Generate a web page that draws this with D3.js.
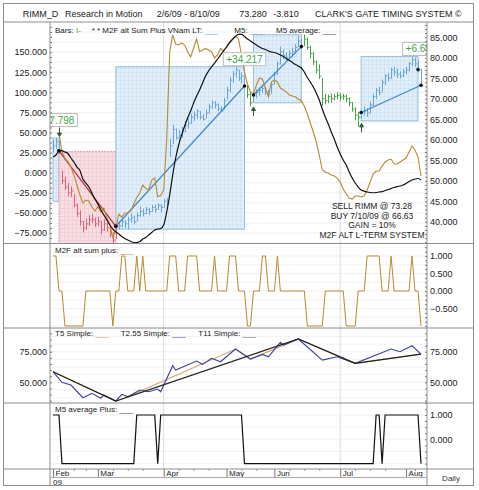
<!DOCTYPE html>
<html>
<head>
<meta charset="utf-8">
<script src="https://d3js.org/d3.v7.min.js"></script>
<style>
  body { margin: 0; background: #fff; }
  svg text { font-family: "Liberation Sans", Arial, Helvetica, sans-serif; }
</style>
</head>
<body>
<svg id="chart" width="479" height="490"></svg>
<script>
// Header
var titleItems = [
  {x: 22.7, text: "RIMM_D"},
  {x: 65, text: "Research in Motion"},
  {x: 156.7, text: "2/6/09 - 8/10/09"},
  {x: 239.3, text: "73.280"},
  {x: 273.3, text: "-3.810"},
  {x: 315, text: "CLARK'S GATE TIMING SYSTEM \u00a9"}
];

// X axis, one slot per trading day
var monthLabels = ["Feb", "Mar", "Apr", "May", "Jun", "Jul", "Aug"];
var monthIdx = [0, 15, 37, 58, 74, 96, 118];
var weekIdx = [2, 7, 11, 20, 25, 30, 42, 47, 52, 63, 68, 79, 84, 89, 101, 106, 111, 121];
var quarterIdx = [37, 96];

// Daily price bars (right axis)
var closes = [58.5,59.5,57.3,50,48.5,47,47.5,44,42,40, 38.5,39.5,40.5,40.5,39.5,40,38,39.5,38.5,37,
  35.5,38.9,39,40,39.5,40.5,41,40,41.5,42.5, 42,43,42.5,43.5,43,44,43.5,45,44.5,58.5,
  62.5,60.5,61,62,63.5,64,65.5,66,67,65.5, 65,66.5,68,69,68.5,67.5,67,69.5,72,74.5,
  76,77,75,75.5,73.1,71,69,70.9,71.5,72, 72.5,71.5,71,73.5,76,78.5,81.5,80.5,80,81,
  81.5,82.5,84,82.7,84.5,82.5,81,79,77,75.5, 70,69.5,70.5,70,70.5,70.8,70.4,70.6,70,69,
  67.5,66,65.5,66.5,67,66.5,68.5,70.5,72,71.5, 74,75.5,75,77,76.5,76,75.5,76.5,77,78.5,
  79.5,78.5,77.1,73.28];
var highs = [60,60.4,59.8,52.5,51,49.5,48.6,46.8,44.5,42.8, 40.2,40.8,41.6,41.9,41,41.2,40.2,40.6,39.8,38.9,
  37.4,39.5,40.2,41,40.4,41.2,42,41.5,42.3,43.7, 43.2,43.6,43.4,44.1,44.2,44.5,44.3,45.6,45.8,60.2,
  63.6,62.8,62.4,63.1,64.5,65.2,66.3,66.9,67.4,67, 66.2,67.3,68.8,69.6,69.4,68.9,68.1,70.2,72.9,75.3,
  76.8,77.8,77.1,76.4,75.6,73.4,71.5,71.6,72.3,72.8, 73.4,72.9,72.2,74.1,76.6,79.1,82.7,82,81.3,81.8,
  82.4,83.3,85.4,84.6,85.6,84.9,83,81.4,79.3,78.4, 75,71.2,71,71.3,71.2,71.6,71.4,71.2,71,70.3,
  69.2,67.9,66.8,67.4,68.1,67.7,69.3,71.2,72.6,72.9, 74.7,76,76.3,77.6,77.8,77.3,76.7,77.2,77.8,79,
  80.2,80,79.4,77.3];
var lows = [57,57.8,56.5,49.2,47.8,46.2,46,43.5,41.2,39.1, 37.4,38,39,39.6,38.7,38.9,36.9,37.8,37.6,36.2,
  34.7,35.8,38.1,38.6,38.5,38.2,39.8,39.4,40.1,41.2, 41.3,41.8,41.6,42.4,42.2,42.9,42.3,43.4,43.6,55.8,
  58.9,60,59.6,60.4,61.8,62.7,63.9,64.6,65.1,64.9, 64.7,65.2,66.4,67.5,67.6,67,66.8,67.4,69.8,71.6,
  73.9,75.2,74.3,73.8,72.4,70.2,68.1,69.2,70.1,70.7, 71.3,70.9,70.3,71.2,73.4,75.8,78.3,79.6,79.2,79.7,
  80.3,81,82.6,82.1,82.8,81.9,79.8,78.2,76.1,74.8, 68.2,68.6,68.9,69.1,69.6,69.8,69.5,69.7,69.2,68.1,
  66.8,64.7,63.2,65.2,65.9,65.6,66.4,68.1,69.9,70.8, 71.6,73.3,74.2,74.8,75.6,75.1,74.9,75.3,75.9,76.6,
  77.9,77.8,76.5,72.8];

// Indicator lines on the left axis
var m2fLT = [null,null,49.4,26.1,17.7,13.7,7.1,-2.9,-15.3,-27.7, -37.7,-34,-35.2,-42.7,-47.6,-42.3,-48.5,-43.9,-56.3,-63.8,
  -81.3,-68.8,-51.4,-55.1,-50.1,-50.1,-47.6,-38.9,-30.8,-25.2, -15.3,-19.4,-21.5,-9.1,-6.6,-29.9,-28.4,-21.5,40.7,150.1,
  171.3,160.1,158.8,161.3,158.8,150.5,143.9,155.1,166.3,150.5, 152.6,154.5,152.6,150.1,142.7,146.4,154.5,151.4,156.3,162.6,
  166.3,170.1,166.3,146.4,125.2,110.3,100.4,97.9,109.1,117.8, 116.5,105.3,94.2,112.8,115.3,112.8,105.3,102.9,100.4,96.6,
  95.4,94.2,91.7,89.2,83,73,61.8,50.6,38.2,22, 3.4,0.9,-0.4,-2.9,-4.1,-6.6,-11.6,-20.3,-26.5,-31.4,
  -32.7,-29,-29,-30.2,-29,-21.5,-11.6,-1.6,2.1,2.1, 8.3,13.3,15.8,17,10.8,10.8,13.3,15.8,18.3,25.7,
  33.2,28.2,19.5,-4.1];
var m5Avg = [19.5,22,27,27.6,25.7,23.9,18.3,13.3,7.1,2.7, -7.8,-12.8,-17.8,-25.2,-32.7,-38.9,-46.4,-52.6,-58.8,-65,
  -70,-73.7,-76.2,-79.4,-81.8,-83.7,-85.6,-86.8,-86.8,-85.6, -82.5,-80.6,-77.5,-74.4,-71.3,-70,-69.4,-65,-48.9,-27.7,
  -2.9,18.3,34.5,46.9,58.1,68,76.7,86.7,95.4,102.9, 111.6,120.3,126.5,131.5,136.4,141.4,146.4,151.4,156.3,161.3,
  165.7,169.4,171.9,171.9,169.4,166.3,163.8,161.3,158.8,156.3, 154.5,153.2,151.4,150.1,149.5,148.3,146.4,144.5,142,139.6,
  137.1,134.6,132.7,130.2,125.2,118.4,112.8,106.6,99.1,90.4, 79.2,69.3,60.6,50.6,41.9,31.9,23.3,15.8,9.6,0.9,
  -6.6,-12.8,-17.8,-21.5,-22.8,-24,-24.6,-24.9,-24.6,-24, -23.6,-22.1,-20.9,-19.7,-18.4,-17.2,-16.5,-15.3,-13.4,-10.9,
  -9.1,-7.8,-7.2,-9.1];

// Trades: box span, exit slot, entry/exit prices, box price range
var trades = [
  {from: 0, to: 2, out: 2, side: "long", pIn: null, pOut: 57.3, lo: 45, hi: 60.4, label: "+7.798"},
  {from: 2, to: 21, out: 21, side: "short", pIn: 57.3, pOut: 38.9, lo: 34.7, hi: 57.1},
  {from: 21, to: 64, out: 64, side: "long", pIn: 38.9, pOut: 73.1, lo: 38.2, hi: 77.8, label: "+34.217"},
  {from: 67, to: 83, out: 83, side: "long", pIn: 70.9, pOut: 82.7, lo: 69, hi: 85.6},
  {from: 103, to: 122, out: 123, side: "long", pIn: 66.63, pOut: 73.28, lo: 64.6, hi: 80.3, label: "+6.650"}
];
var notes = ["SELL RIMM @ 73.28", "BUY 7/10/09 @ 66.63", "GAIN = 10%", "M2F ALT L-TERM SYSTEM"];

// Lower panels
var m2fPlus = [1,1,0,0,-1,-1,-1,-1,-1,-1, -1,0,0,0,0,0,0,0,0,0, -1,0,0,1,1,0,0,0,1,0,
  1,0,0,0,0,0,0,0,0,1, 1,1,0,0,0,1,1,1,1,0, 0,0,0,0,1,0,0,0,0,1,
  1,1,0,0,0,-1,-1,0,0,0, 1,1,0,0,0,1,0,0,0,0, 0,0,0,0,0,-1,-1,-1,-1,-1,
  -1,0,0,0,0,0,0,0,-1,-1, -1,-1,0,0,0,1,1,1,1,1, 0,0,0,1,0,0,0,0,0,0,
  1,0,0,-1];
var t5 = [[0,58.7],[21,34.7],[23,40.2],[25,38.2],[61,77.2],[66,69],[82,85.4],[101,65.5],[123,73.1]];
var t255 = [[0,58.7],[3,50],[6,47.8],[10,37.4],[13,41],[16,36.9],[17,39.6],[21,34.7],[23,40.2],[25,38.2],
  [29,43.7],[32,42.3],[35,44.5],[36,42.3],[40,63.6],[41,60],[48,67.4],[50,64.7],[53,69.6],[56,66.8],
  [61,77.2],[66,69],[70,72.8],[72,70.9],[76,82.7],[77,80.5],[82,85.4],[90,68.2],[95,70.9],[101,65.5],
  [113,77.2],[116,75],[120,79.9],[123,73.1]];
var t11 = [[0,58.7],[21,34.7],[82,85.4],[101,65.5],[123,73.1]];
var m5Plus = [1,1,1,-1,-1,-1,-1,-1,-1,-1, -1,-1,-1,-1,-1,-1,-1,-1,-1,-1, -1,-1,-1,-1,-1,-1,-1,-1,1,1,
  1,1,1,1,1,-1,1,1,1,1, 1,1,1,1,1,1,1,1,1,1, 1,1,1,1,1,1,1,1,1,1,
  1,1,1,1,-1,-1,-1,-1,-1,-1, -1,-1,-1,-1,-1,-1,-1,-1,-1,-1, -1,-1,-1,-1,-1,-1,-1,-1,-1,-1,
  -1,-1,-1,-1,-1,-1,-1,-1,-1,-1, -1,-1,-1,-1,-1,-1,-1,-1,1,1, -1,1,1,1,1,1,1,1,1,1,
  1,1,1,-1];

// Axis labels
var mainLeftTicks = [-75, -50, -25, 0, 25, 50, 75, 100, 125, 150];
var mainRightTicks = [40, 45, 50, 55, 60, 65, 70, 75, 80, 85];
var m2fTicks = [-0.5, 0, 0.5, 1];
var tTicks = [50, 75];
var m5Ticks = [0, 1];

var svg = d3.select("#chart").style("color", "#333");
var defs = svg.append("defs");
var plotL = 50, plotR = 427;
var P1 = {top: 22, bot: 243.5}, P2 = {top: 243.5, bot: 328}, P3 = {top: 328, bot: 403}, P4 = {top: 403, bot: 469};
var fmt = d3.format(".3f");

var x = d3.scaleLinear().domain([-1, 125]).range([plotL, plotR]);
var yL = d3.scaleLinear().domain([-88, 187.4]).range([P1.bot, P1.top]);
var yR = d3.scaleLinear().domain([34.7, 88.7]).range([P1.bot, P1.top]);
var y2 = d3.scaleLinear().domain([-1.057, 1.357]).range([P2.bot, P2.top]);
var y3 = d3.scaleLinear().domain([33.1, 94.4]).range([P3.bot, P3.top]);
var y4 = d3.scaleLinear().domain([-1.222, 1.494]).range([P4.bot, P4.top]);

function gridPattern(id, bg, line) {
  var p = defs.append("pattern").attr("id", id).attr("width", 4).attr("height", 4)
    .attr("patternUnits", "userSpaceOnUse");
  p.append("rect").attr("width", 4).attr("height", 4).attr("fill", bg);
  p.append("path").attr("d", "M0,0.5H4M0.5,0V4").attr("stroke", line).attr("stroke-width", 0.7);
}
gridPattern("gridBlue", "#e2eff9", "#cfe3f3");
gridPattern("gridRed", "#f9dfe4", "#f1cad1");

function panel(id, P) {
  defs.append("clipPath").attr("id", id).append("rect")
    .attr("x", plotL).attr("y", P.top).attr("width", plotR - plotL).attr("height", P.bot - P.top);
  return svg.append("g").attr("clip-path", "url(#" + id + ")");
}

function hgrid(g, scale, vals, col) {
  g.selectAll(null).data(vals).enter().append("line")
    .attr("x1", plotL).attr("x2", plotR)
    .attr("y1", function (d) { return scale(d); }).attr("y2", function (d) { return scale(d); })
    .attr("stroke", col || "#ececec").attr("stroke-width", 0.8);
}
function vgrid(g, P) {
  g.selectAll(null).data(quarterIdx).enter().append("line")
    .attr("x1", function (d) { return x(d); }).attr("x2", function (d) { return x(d); })
    .attr("y1", P.top).attr("y2", P.bot).attr("stroke", "#dcdcdc");
}

function axisLabels(scale, vals, side) {
  var ax = side == "left" ? d3.axisLeft(scale) : d3.axisRight(scale);
  var g = svg.append("g").attr("transform", "translate(" + (side == "left" ? plotL : plotR) + ",0)")
    .call(ax.tickValues(vals).tickFormat(fmt).tickSize(0).tickPadding(3));
  g.select(".domain").remove();
  g.attr("font-size", 9);
  g.selectAll("text").attr("fill", "#222");
}
function minorTicks(scale, vals, side) {
  var ax = side == "left" ? d3.axisRight(scale) : d3.axisLeft(scale);
  var g = svg.append("g").attr("transform", "translate(" + (side == "left" ? plotL : plotR) + ",0)")
    .call(ax.tickValues(vals).tickFormat("").tickSize(2));
  g.select(".domain").remove();
  g.selectAll("line").attr("stroke", "#777");
}

function legend(y, items) {
  items.forEach(function (it) {
    var t = svg.append("text").attr("x", it.x).attr("y", y).attr("font-size", 8).attr("fill", "#222");
    t.append("tspan").text(it.text);
    t.append("tspan").attr("fill", it.color).text(it.mark);
  });
}

// ---- Main panel
var main = panel("clip1", P1);
hgrid(main, yL, d3.range(-87.5, 187.5, 12.5));
vgrid(main, P1);

main.selectAll(".box").data(trades).enter().append("rect")
  .attr("x", function (t) { return x(t.from); })
  .attr("width", function (t) { return x(t.to) - x(t.from); })
  .attr("y", function (t) { return yR(t.hi); })
  .attr("height", function (t) { return yR(t.lo) - yR(t.hi); })
  .attr("fill", function (t) { return t.side == "long" ? "url(#gridBlue)" : "url(#gridRed)"; })
  .attr("stroke", function (t) { return t.side == "long" ? "#92bfe2" : "#e69aa7"; })
  .attr("stroke-dasharray", function (t) { return t.side == "long" ? null : "2,1"; });

function barColor(i) {
  for (var k = 0; k < trades.length; k++) {
    var t = trades[k];
    var starts = i == t.from && !trades.some(function (s) { return s.out == i; });
    if ((i > t.from && i <= t.out) || starts) return t.side == "long" ? "#6aa6d8" : "#d8677c";
  }
  return "#47a547";
}
var bars = main.append("g");
closes.forEach(function (c, i) {
  var col = barColor(i), bx = Math.round(x(i)) + 0.5;
  bars.append("line").attr("x1", bx).attr("x2", bx)
    .attr("y1", yR(highs[i])).attr("y2", yR(lows[i])).attr("stroke", col);
  bars.append("line").attr("x1", bx).attr("x2", bx + 2)
    .attr("y1", yR(c)).attr("y2", yR(c)).attr("stroke", col);
});

// trend lines inside boxes
main.selectAll(".trend").data(trades.filter(function (t) { return t.pIn != null; })).enter().append("line")
  .attr("x1", function (t) { return x(t.from); }).attr("y1", function (t) { return yR(t.pIn); })
  .attr("x2", function (t) { return x(t.out); }).attr("y2", function (t) { return yR(t.pOut); })
  .attr("stroke", function (t) { return t.side == "long" ? "#3d88c8" : "#a8323e"; })
  .attr("stroke-width", 1.2);

main.append("path").datum(m2fLT)
  .attr("d", d3.line().defined(function (d) { return d != null; })
    .x(function (d, i) { return x(i); }).y(function (d) { return yL(d); }))
  .attr("fill", "none").attr("stroke", "#b88a30").attr("stroke-width", 1.1);
main.append("path").datum(m5Avg)
  .attr("d", d3.line().curve(d3.curveMonotoneX).x(function (d, i) { return x(i); }).y(function (d) { return yL(d); }))
  .attr("fill", "none").attr("stroke", "#111").attr("stroke-width", 1.2);

// entry / exit dots
trades.forEach(function (t) {
  if (t.pIn != null) main.append("circle").attr("cx", x(t.from)).attr("cy", yR(t.pIn)).attr("r", 1.8).attr("fill", "#111");
  main.append("circle").attr("cx", x(t.out)).attr("cy", yR(t.pOut)).attr("r", 1.8).attr("fill", "#111");
});
main.append("circle").attr("cx", x(122)).attr("cy", yR(closes[122])).attr("r", 1.8).attr("fill", "#111");

// entry arrows
trades.filter(function (t) { return t.pIn != null; }).forEach(function (t) {
  var cx = Math.round(x(t.from)) + 0.5, d;
  if (t.side == "long") {
    var tip = yR(lows[t.from]) + 5;
    d = "M" + cx + "," + tip + "l-2,3.5h4z M" + cx + "," + (tip + 3) + "v6";
  } else {
    var tip2 = yR(highs[t.from]) - 4;
    d = "M" + cx + "," + tip2 + "l-2,-3.5h4z M" + cx + "," + (tip2 - 3) + "v-6";
  }
  main.append("path").attr("d", d).attr("fill", "#2f5f2f").attr("stroke", "#2f5f2f").attr("stroke-width", 1);
});

// gain labels
trades.filter(function (t) { return t.label; }).forEach(function (t) {
  var cx = x(t.out);
  var arrowTop = trades.some(function (s) { return s.from == t.out && s.side == "short"; })
    ? yR(highs[t.out]) - 13 : Infinity;
  var bottom = Math.min(yR(t.hi), arrowTop) - 1;
  var g = main.append("g");
  var tx = g.append("text").attr("x", cx).attr("y", bottom - 3).attr("text-anchor", "middle")
    .attr("font-size", 10).attr("fill", "#3aa64a").text(t.label);
  var w = tx.node().getComputedTextLength() + 6;
  g.insert("rect", "text").attr("x", cx - w / 2).attr("y", bottom - 13).attr("width", w).attr("height", 13)
    .attr("fill", "#fff").attr("stroke", "#bdbdbd");
});

main.selectAll(".note").data(notes).enter().append("text")
  .attr("x", 372).attr("y", function (d, i) { return 209 + i * 9.7; })
  .attr("text-anchor", "middle").attr("font-size", 8.5).attr("fill", "#222").text(function (d) { return d; });

axisLabels(yL, mainLeftTicks, "left");
axisLabels(yR, mainRightTicks, "right");
minorTicks(yL, d3.range(-87.5, 187.5, 6.25), "left");
minorTicks(yR, d3.range(35, 89, 1), "right");
legend(33, [
  {x: 55, text: "Bars: ", mark: "I-", color: "#3f9f3f"},
  {x: 91.7, text: "* * M2F alt Sum Plus VNam LT: ", mark: "___", color: "#6aa7d8"},
  {x: 234.3, text: "M5: ", mark: "___", color: "#7f9fbf"},
  {x: 276, text: "M5 average: ", mark: "___", color: "#333"}
]);

// ---- M2F alt sum plus
var p2 = panel("clip2", P2);
hgrid(p2, y2, d3.range(-1, 1.3, 0.25), "#efefef");
vgrid(p2, P2);
p2.append("path").datum(m2fPlus)
  .attr("d", d3.line().x(function (d, i) { return x(i); }).y(function (d) { return y2(d); }))
  .attr("fill", "none").attr("stroke", "#b88a30").attr("stroke-width", 1);
axisLabels(y2, m2fTicks, "right");
minorTicks(y2, d3.range(-1, 1.3, 0.125), "right");
legend(253, [{x: 55, text: "M2F alt sum plus: ", mark: "___", color: "#b88a30"}]);

// ---- T5 / T2.55 / T11
var p3 = panel("clip3", P3);
hgrid(p3, y3, d3.range(37.5, 94, 6.25), "#efefef");
vgrid(p3, P3);
var tLine = d3.line().x(function (d) { return x(d[0]); }).y(function (d) { return y3(d[1]); });
p3.append("path").datum(t5).attr("d", tLine).attr("fill", "none").attr("stroke", "#cfa060").attr("stroke-width", 1.1);
p3.append("path").datum(t255).attr("d", tLine).attr("fill", "none").attr("stroke", "#40409e").attr("stroke-width", 1.1);
p3.append("path").datum(t11).attr("d", tLine).attr("fill", "none").attr("stroke", "#222").attr("stroke-width", 1.2);
axisLabels(y3, tTicks, "left");
axisLabels(y3, tTicks, "right");
minorTicks(y3, d3.range(35, 94, 5), "left");
minorTicks(y3, d3.range(35, 94, 5), "right");
legend(336, [
  {x: 55, text: "T5 Simple: ", mark: "___", color: "#cfa060"},
  {x: 120.7, text: "T2.55 Simple: ", mark: "___", color: "#40409e"},
  {x: 198.3, text: "T11 Simple: ", mark: "___", color: "#666"}
]);

// ---- M5 average Plus
var p4 = panel("clip4", P4);
hgrid(p4, y4, d3.range(-1, 1.6, 0.5), "#efefef");
vgrid(p4, P4);
p4.append("path").datum(m5Plus)
  .attr("d", d3.line().x(function (d, i) { return x(i); }).y(function (d) { return y4(d); }))
  .attr("fill", "none").attr("stroke", "#111").attr("stroke-width", 1.2);
axisLabels(y4, m5Ticks, "right");
minorTicks(y4, d3.range(-1, 1.6, 0.25), "right");
legend(412, [{x: 55, text: "M5 average Plus: ", mark: "___", color: "#333"}]);

// ---- x axis row
var xa = svg.append("g").attr("transform", "translate(0," + P4.bot + ")")
  .call(d3.axisBottom(x).tickValues(monthIdx).tickSize(8)
    .tickFormat(function (d, i) { return monthLabels[i]; }));
xa.select(".domain").remove();
xa.attr("font-size", 8);
xa.selectAll("line").attr("stroke", "#777");
xa.selectAll("text").attr("x", 2).attr("y", 1).attr("dy", "0.71em").attr("text-anchor", "start").attr("fill", "#222");
var xw = svg.append("g").attr("transform", "translate(0," + P4.bot + ")")
  .call(d3.axisBottom(x).tickValues(weekIdx).tickSize(2).tickFormat(""));
xw.select(".domain").remove();
xw.selectAll("line").attr("stroke", "#999");
svg.append("text").attr("x", 53).attr("y", 484.5).attr("font-size", 8).attr("fill", "#222").text("09");
svg.append("text").attr("x", 451).attr("y", 481).attr("font-size", 8).attr("text-anchor", "middle").attr("fill", "#333").text("Daily");

// ---- frame
var frame = svg.append("g").attr("stroke", "#8e8e8e").attr("fill", "none");
frame.append("rect").attr("x", 3.5).attr("y", 3.5).attr("width", 470).attr("height", 482);
[P1.top, P2.top, P3.top, P4.top, P4.bot].forEach(function (yy) {
  frame.append("line").attr("x1", 3.5).attr("x2", 473.5).attr("y1", yy).attr("y2", yy);
});
frame.append("line").attr("x1", plotL).attr("x2", plotL).attr("y1", P1.top).attr("y2", 486);
frame.append("line").attr("x1", plotR).attr("x2", plotR).attr("y1", P1.top).attr("y2", 486);
frame.append("line").attr("x1", plotL).attr("x2", plotR).attr("y1", 477.5).attr("y2", 477.5).attr("stroke", "#aaa");

svg.selectAll(".title").data(titleItems).enter().append("text")
  .attr("x", function (d) { return d.x; }).attr("y", 16.5)
  .attr("font-size", 9).attr("fill", "#222").text(function (d) { return d.text; });
</script>
</body>
</html>
